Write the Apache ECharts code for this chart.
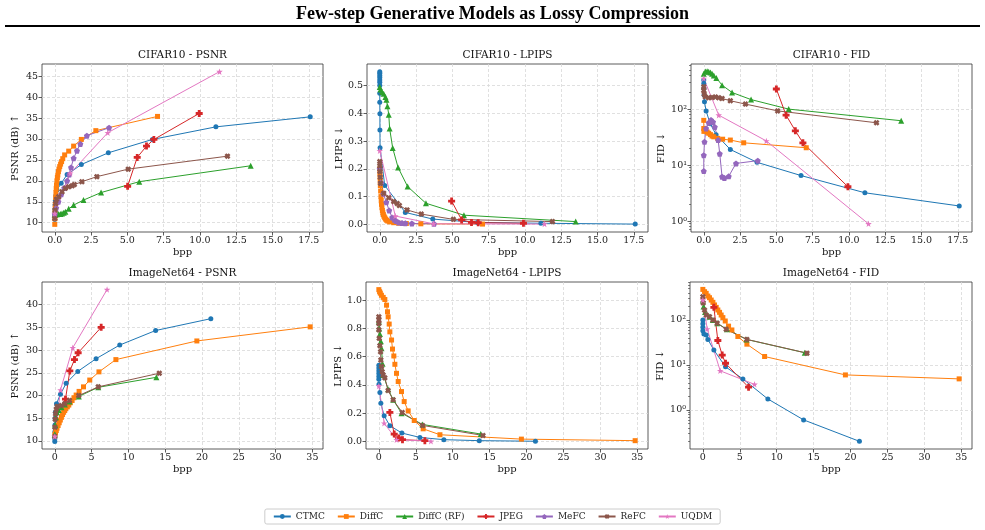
<!DOCTYPE html>
<html>
<head>
<meta charset="utf-8">
<script src="https://cdn.jsdelivr.net/npm/echarts@6/dist/echarts.min.js"></script>
<style>
  html, body { margin: 0; padding: 0; background: #fff; }
  #chart { width: 985px; height: 530px; }
</style>
</head>
<body>
<div id="chart"></div>
<script>
// methods, in plotting order
const METHODS = ['CTMC', 'DiffC', 'DiffC (RF)', 'JPEG', 'MeFC', 'ReFC', 'UQDM']

// ---- CIFAR10 (bpp, value) ----
const cifarPsnr = {
  'CTMC': [[0,10.8],[0,11.5],[0,12.3],[0.01,13.2],[0.02,14.2],[0.04,15.3],[0.08,16.5],[0.15,17.8],[0.44,19.4],[0.85,21.5],[1.83,23.9],[3.69,26.7],[6.73,29.9],[11.1,32.9],[17.6,35.3]],
  'DiffC': [[0,9.6],[0.01,11.0],[0.02,12.3],[0.03,13.4],[0.04,14.4],[0.06,16.0],[0.08,17.2],[0.1,18.2],[0.12,19.0],[0.15,20.0],[0.18,20.8],[0.21,21.4],[0.25,22.2],[0.29,22.8],[0.34,23.4],[0.4,24.0],[0.47,24.6],[0.55,25.3],[0.68,26.2],[0.96,27.1],[1.3,28.3],[1.83,29.9],[2.83,32.0],[7.08,35.4]],
  'DiffC (RF)': [[0,12.0],[0.05,11.9],[0.16,12.0],[0.27,12.1],[0.39,12.1],[0.5,12.2],[0.62,12.4],[0.73,12.6],[0.96,13.3],[1.3,14.2],[1.98,15.4],[3.19,17.2],[5.82,19.8],[13.5,23.6]],
  'JPEG': [[5.02,18.7],[5.68,25.6],[6.32,28.3],[6.83,29.9],[9.95,36.1]],
  'MeFC': [[0,12],[0.1,13.5],[0.25,15],[0.45,16.8],[0.65,18.3],[0.85,20.0],[1.0,21.5],[1.12,23.2],[1.3,25.4],[1.53,27.2],[1.76,28.8],[2.21,30.8],[3.74,32.7]],
  'ReFC': [[0,11],[0.02,13],[0.06,14.6],[0.12,15.6],[0.27,16.2],[0.5,17.4],[0.73,18.2],[0.96,18.6],[1.2,18.8],[1.35,19.1],[1.87,19.8],[2.9,21.0],[5.06,22.8],[11.9,25.9]],
  'UQDM': [[0,12.2],[1.07,21.8],[3.65,31.5],[11.35,46.1]]
}

const cifarLpips = {
  'CTMC': [[0,0.55],[0,0.544],[0,0.536],[0,0.529],[0,0.52],[0,0.512],[0,0.5],[0,0.472],[0,0.44],[0.01,0.398],[0.01,0.34],[0.02,0.276],[0.34,0.14],[1.76,0.043],[3.65,0.019],[6.73,0.007],[11.1,0.004],[17.6,0.001]],
  'DiffC': [[0,0.2],[0.01,0.185],[0.02,0.17],[0.03,0.155],[0.04,0.14],[0.06,0.12],[0.08,0.1],[0.1,0.085],[0.12,0.072],[0.15,0.06],[0.18,0.05],[0.21,0.042],[0.25,0.035],[0.29,0.029],[0.34,0.024],[0.4,0.019],[0.47,0.015],[0.55,0.012],[0.68,0.009],[0.96,0.006],[1.3,0.004],[1.83,0.003],[2.83,0.002],[7.08,0.001]],
  'DiffC (RF)': [[0,0.495],[0.05,0.486],[0.16,0.477],[0.27,0.47],[0.39,0.459],[0.46,0.449],[0.53,0.425],[0.62,0.395],[0.68,0.345],[0.89,0.275],[1.26,0.205],[1.92,0.136],[3.18,0.076],[5.8,0.033],[13.5,0.01]],
  'JPEG': [[4.95,0.084],[5.64,0.016],[6.32,0.007],[6.78,0.006],[9.9,0.004]],
  'MeFC': [[0,0.2],[0.1,0.15],[0.25,0.11],[0.45,0.08],[0.65,0.05],[0.85,0.025],[1.0,0.017],[1.12,0.012],[1.3,0.007],[1.53,0.005],[1.76,0.004],[2.21,0.003],[3.74,0.002]],
  'ReFC': [[0,0.226],[0,0.21],[0.01,0.19],[0.03,0.17],[0.05,0.148],[0.27,0.112],[0.62,0.096],[0.96,0.082],[1.2,0.075],[1.35,0.068],[1.88,0.052],[2.86,0.037],[5.07,0.018],[11.9,0.01]],
  'UQDM': [[0,0.265],[1.07,0.03],[3.7,0.002],[11.35,0.001]]
}

const cifarFid = {
  'CTMC': [[0,330],[0,287],[0.01,234],[0.02,178],[0.05,135],[0.16,93],[0.44,55],[0.85,35],[1.83,19],[3.67,11.2],[6.7,6.5],[11.1,3.2],[17.6,1.86]],
  'DiffC': [[0,63],[0,45],[0.01,40],[0.05,42],[0.12,41],[0.23,39],[0.34,37],[0.46,35],[0.57,33],[0.69,32],[0.96,30],[1.3,29],[1.83,28],[2.75,25],[7.06,20.4]],
  'DiffC (RF)': [[0,430],[0.11,470],[0.23,475],[0.34,465],[0.46,450],[0.57,430],[0.69,400],[0.87,360],[1.26,268],[1.95,198],[3.26,148],[5.85,100],[13.6,62]],
  'JPEG': [[5.0,229],[5.67,78],[6.31,41],[6.83,25],[9.93,4.1]],
  'MeFC': [[0,7.8],[0,15],[0.05,26],[0.16,45],[0.34,57],[0.5,64],[0.64,59],[0.76,48],[0.99,28],[1.1,16],[1.26,6.2],[1.42,5.9],[1.72,6.3],[2.22,10.7],[3.72,12]],
  'ReFC': [[0,250],[0,215],[0.03,185],[0.1,166],[0.34,160],[0.57,162],[0.8,165],[1.03,160],[1.26,155],[1.83,141],[2.87,123],[5.09,93],[11.9,57]],
  'UQDM': [[0,352],[1.03,78],[4.31,27],[11.35,0.89]]
}

// ---- ImageNet64 (bpp, value) ----
const imagenetPsnr = {
  'CTMC': [[0,9.9],[0,10.5],[0.01,12],[0.02,13.5],[0.04,15],[0.08,16.3],[0.23,18.2],[0.77,20.3],[1.54,22.7],[3.12,25.3],[5.61,28.1],[8.82,31.1],[13.7,34.3],[21.2,36.9]],
  'DiffC': [[0,11.4],[0.1,11.8],[0.2,12.3],[0.3,12.8],[0.45,13.4],[0.6,14.0],[0.75,14.6],[0.9,15.2],[1.05,15.8],[1.2,16.3],[1.35,16.7],[1.5,17.1],[1.7,17.5],[1.9,17.9],[2.1,18.4],[2.35,18.9],[2.6,19.5],[2.9,20.1],[3.3,20.9],[3.9,21.9],[4.75,23.4],[6.0,25.2],[8.3,27.9],[19.3,32.0],[34.7,35.1]],
  'DiffC (RF)': [[0,11.5],[0.05,13.5],[0.15,15.2],[0.3,16.3],[0.54,16.8],[0.9,17.4],[1.36,18],[2.0,18.7],[3.26,19.8],[5.9,21.8],[13.8,24.0]],
  'JPEG': [[1.45,19.2],[2.04,25.4],[2.67,27.9],[3.17,29.4],[6.3,35.0]],
  'ReFC': [[0,11],[0.02,13],[0.05,14.8],[0.1,16],[0.2,17],[0.32,17.6],[0.9,17.8],[1.36,18.2],[2.0,18.9],[3.26,20.0],[5.9,21.9],[14.2,24.9]],
  'UQDM': [[0,11.0],[0.77,21.2],[2.44,30.5],[7.1,43.3]]
}

const imagenetLpips = {
  'CTMC': [[0,0.54],[0,0.52],[0,0.5],[0,0.48],[0,0.46],[0,0.44],[0.02,0.405],[0.14,0.346],[0.27,0.27],[0.72,0.181],[1.49,0.111],[3.12,0.059],[5.56,0.028],[8.8,0.012],[13.6,0.005],[21.2,0.001]],
  'DiffC': [[0,1.075],[0.1,1.06],[0.2,1.05],[0.35,1.035],[0.59,1.02],[0.81,1.005],[1.04,0.965],[1.17,0.918],[1.26,0.882],[1.4,0.831],[1.49,0.776],[1.72,0.718],[1.85,0.654],[2.03,0.605],[2.17,0.546],[2.39,0.482],[2.62,0.424],[3.07,0.353],[3.43,0.282],[3.97,0.216],[4.79,0.148],[6.0,0.089],[8.27,0.047],[19.3,0.016],[34.7,0.005]],
  'DiffC (RF)': [[0,0.85],[0.05,0.8],[0.15,0.76],[0.27,0.71],[0.36,0.66],[0.5,0.55],[0.59,0.47],[1.26,0.37],[1.94,0.294],[3.07,0.2],[5.9,0.12],[13.8,0.052]],
  'JPEG': [[1.49,0.205],[2.08,0.052],[2.71,0.024],[3.2,0.012],[6.23,0.005]],
  'ReFC': [[0,0.882],[0,0.86],[0,0.835],[0,0.79],[0.05,0.73],[0.14,0.678],[0.23,0.635],[0.27,0.576],[0.36,0.53],[0.45,0.494],[0.59,0.47],[0.81,0.45],[1.26,0.36],[1.94,0.294],[3.16,0.205],[5.92,0.113],[14.1,0.042]],
  'UQDM': [[0,0.393],[0.72,0.129],[2.4,0.012],[7.05,0.001]]
}

const imagenetFid = {
  'CTMC': [[0,100],[0,82],[0,69],[0,58],[0.14,49],[0.45,46.5],[0.68,37],[1.49,21.5],[3.07,9.1],[5.42,4.9],[8.8,1.75],[13.64,0.6],[21.2,0.2]],
  'DiffC': [[0,479],[0.23,426],[0.45,391],[0.68,341],[0.9,313],[1.13,278],[1.36,247],[1.58,216],[1.81,191],[2.03,167],[2.26,148],[2.48,129],[2.71,113],[3.03,95],[3.48,73],[3.93,60],[4.74,43],[5.96,29],[8.36,15.4],[19.3,6.0],[34.7,4.9]],
  'DiffC (RF)': [[0,270],[0.1,200],[0.3,150],[0.9,118],[1.36,100],[1.94,85],[3.26,62],[5.9,37],[13.8,18.7]],
  'JPEG': [[1.49,191],[2.03,35],[2.62,16.6],[3.07,10.9],[6.19,3.2]],
  'ReFC': [[0,330],[0.05,240],[0.23,166],[0.45,129],[0.9,118],[1.36,100],[1.94,85],[3.16,62],[5.96,37],[14.1,18.3]],
  'UQDM': [[0,277],[0.59,63],[2.35,7.4],[7.0,3.7]]
}

// tick labels
const cifarXTicks = [0, 2.5, 5, 7.5, 10, 12.5, 15, 17.5]
const imagenetXTicks = [0, 5, 10, 15, 20, 25, 30, 35]
const cifarPsnrTicks = [10, 15, 20, 25, 30, 35, 40, 45]
const imagenetPsnrTicks = [10, 15, 20, 25, 30, 35, 40]
const cifarLpipsTicks = [0, 0.1, 0.2, 0.3, 0.4, 0.5]
const imagenetLpipsTicks = [0, 0.2, 0.4, 0.6, 0.8, 1.0]
const fidTicks = [1, 10, 100]
const fidMinorTicks = [0.2,0.3,0.4,0.5,0.6,0.7,0.8,0.9,2,3,4,5,6,7,8,9,20,30,40,50,60,70,80,90,200,300,400,500,600,700,800,900]

// ---- styling ----
const FONT = 'DejaVu Serif'
const COLORS = {
  'CTMC': '#1f77b4', 'DiffC': '#ff7f0e', 'DiffC (RF)': '#2ca02c', 'JPEG': '#d62728',
  'MeFC': '#9467bd', 'ReFC': '#8c564b', 'UQDM': '#e377c2'
}
const SYMBOLS = {
  'CTMC': ['circle', 5],
  'DiffC': ['rect', 5],
  'DiffC (RF)': ['triangle', 6],
  'JPEG': ['path://M3,0H7V3H10V7H7V10H3V7H0V3H3Z', 7],
  'MeFC': ['path://M5,0L10,3.8L8.1,9.8H1.9L0,3.8Z', 6],
  'ReFC': ['path://M3,0L5,2L7,0L10,3L8,5L10,7L7,10L5,8L3,10L0,7L2,5L0,3Z', 6],
  'UQDM': ['path://M5,0L6.2,3.6H10L7,5.9L8.1,9.5L5,7.3L1.9,9.5L3,5.9L0,3.6H3.8Z', 6.5]
}
const sup = { '0': '\u2070', '1': '\u00b9', '2': '\u00b2' }
const fidLabel = v => '10' + sup[String(Math.round(Math.log10(v)))]

// panel layout
const panels = [
  { title: 'CIFAR10 - PSNR', data: cifarPsnr, left: 42, top: 64, w: 281, h: 168, x: [-0.88, 18.48], xt: cifarXTicks, xf: v => v.toFixed(1),
    y: [7.77, 47.93], yt: cifarPsnrTicks, yf: v => String(v), yname: 'PSNR (dB) \u2191', ygap: 22 },
  { title: 'CIFAR10 - LPIPS', data: cifarLpips, left: 367, top: 64, w: 281, h: 168, x: [-0.88, 18.48], xt: cifarXTicks, xf: v => v.toFixed(1),
    y: [-0.0275, 0.5775], yt: cifarLpipsTicks, yf: v => v.toFixed(1), yname: 'LPIPS \u2193', ygap: 23 },
  { title: 'CIFAR10 - FID', data: cifarFid, left: 691, top: 64, w: 281, h: 168, x: [-0.88, 18.48], xt: cifarXTicks, xf: v => v.toFixed(1),
    y: [0.637, 640], log: true, yt: fidTicks, yf: fidLabel, yname: 'FID \u2193', ygap: 25 },
  { title: 'ImageNet64 - PSNR', data: imagenetPsnr, left: 42, top: 282, w: 281, h: 167, x: [-1.74, 36.44], xt: imagenetXTicks, xf: v => String(v),
    y: [8.23, 44.97], yt: imagenetPsnrTicks, yf: v => String(v), yname: 'PSNR (dB) \u2191', ygap: 22 },
  { title: 'ImageNet64 - LPIPS', data: imagenetLpips, left: 366, top: 282, w: 282, h: 167, x: [-1.74, 36.44], xt: imagenetXTicks, xf: v => String(v),
    y: [-0.054, 1.129], yt: imagenetLpipsTicks, yf: v => v.toFixed(1), yname: 'LPIPS \u2193', ygap: 23 },
  { title: 'ImageNet64 - FID', data: imagenetFid, left: 690, top: 282, w: 282, h: 167, x: [-1.74, 36.44], xt: imagenetXTicks, xf: v => String(v),
    y: [0.135, 700], log: true, yt: fidTicks, yf: fidLabel, yname: 'FID \u2193', ygap: 25 }
]

const titles = [{
  text: 'Few-step Generative Models as Lossy Compression',
  left: 'center', top: 5, padding: 0,
  textStyle: { fontFamily: 'Liberation Serif', fontWeight: 'bold', fontSize: 18, color: '#000' }
}]
const grids = [], xAxes = [], yAxes = [], series = []

const tickStyle = { show: true, inside: false, length: 3.5, lineStyle: { color: '#333', width: 0.8 } }
const gridLine = { show: true, lineStyle: { color: '#d8d8d8', width: 0.8, type: [3, 2] } }
const labelStyle = { fontFamily: FONT, fontSize: 9.5, color: '#222' }

panels.forEach((p, i) => {
  titles.push({
    text: p.title, left: p.left + p.w / 2, top: p.top - 14, textAlign: 'center', padding: 0,
    textStyle: { fontFamily: FONT, fontWeight: 'normal', fontSize: 10.5, color: '#111' }
  })
  grids.push({ left: p.left, top: p.top, width: p.w, height: p.h, show: true, borderColor: '#333', borderWidth: 0.8, containLabel: false })

  xAxes.push({
    gridIndex: i, type: 'value', min: p.x[0], max: p.x[1],
    name: 'bpp', nameLocation: 'middle', nameGap: 15,
    nameTextStyle: { fontFamily: FONT, fontSize: 10, color: '#111' },
    axisLine: { show: false, onZero: false },
    axisTick: Object.assign({ customValues: p.xt }, tickStyle),
    axisLabel: Object.assign({ customValues: p.xt, formatter: p.xf, margin: 4 }, labelStyle),
    splitLine: gridLine
  })

  const yIndex = yAxes.length
  yAxes.push({
    gridIndex: i, type: p.log ? 'log' : 'value', logBase: 10, min: p.y[0], max: p.y[1],
    name: p.yname, nameLocation: 'middle', nameGap: p.ygap, nameRotate: 90,
    nameTextStyle: { fontFamily: FONT, fontSize: 10, color: '#111' },
    axisLine: { show: false, onZero: false },
    axisTick: Object.assign({ customValues: p.yt }, tickStyle),
    axisLabel: Object.assign({ customValues: p.yt, formatter: p.yf, margin: 4 }, labelStyle),
    splitLine: gridLine
  })
  if (p.log) {
    // minor ticks on their own axis, without grid lines
    yAxes.push({
      gridIndex: i, type: 'log', logBase: 10, min: p.y[0], max: p.y[1], position: 'left',
      axisLine: { show: false, onZero: false },
      axisTick: { show: true, inside: false, length: 2, customValues: fidMinorTicks, lineStyle: { color: '#333', width: 0.6 } },
      axisLabel: { show: false },
      splitLine: { show: false }
    })
  }

  METHODS.forEach(m => {
    if (!p.data[m]) return
    series.push({
      name: m, type: 'line', xAxisIndex: i, yAxisIndex: yIndex,
      data: p.data[m],
      symbol: SYMBOLS[m][0], symbolSize: SYMBOLS[m][1],
      lineStyle: { color: COLORS[m], width: 1 },
      itemStyle: { color: COLORS[m] },
      emphasis: { disabled: true },
      z: 3
    })
  })
})

const chart = echarts.init(document.getElementById('chart'), null, { renderer: 'canvas' })
chart.setOption({
  animation: false,
  backgroundColor: '#fff',
  title: titles,
  grid: grids,
  xAxis: xAxes,
  yAxis: yAxes,
  series: series,
  legend: {
    data: METHODS, bottom: 6, left: 'center',
    itemWidth: 17, itemHeight: 6, itemGap: 12,
    borderColor: '#ccc', borderWidth: 1, borderRadius: 2, padding: [3, 8],
    textStyle: { fontFamily: FONT, fontSize: 9, color: '#222' }
  },
  graphic: [{
    type: 'line', shape: { x1: 5, y1: 26, x2: 980, y2: 26 },
    style: { stroke: '#000', lineWidth: 2 }
  }]
})
</script>
</body>
</html>
